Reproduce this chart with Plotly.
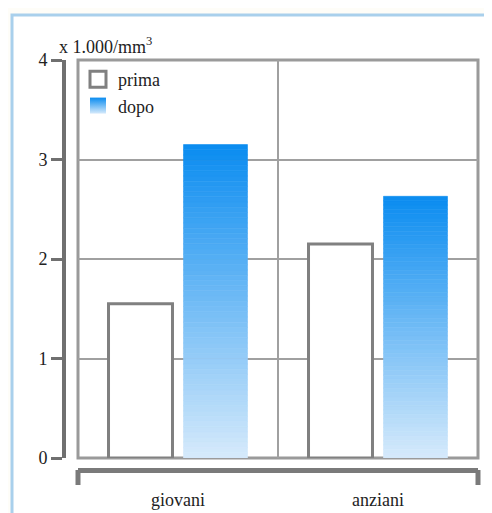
import plotly.graph_objects as go

categories = ["giovani", "anziani"]
prima = [1.55, 2.15]
dopo = [3.15, 2.63]
y_ticks = [0, 1, 2, 3, 4]
y_unit = "x 1.000/mm<sup>3</sup>"

FONT = "Liberation Serif"
TOP = (10, 140, 240)
BOT = (214, 234, 251)
N = 60


def mix(t):
    r = [round(TOP[i] + (BOT[i] - TOP[i]) * t) for i in range(3)]
    return "rgb(%d,%d,%d)" % tuple(r)


fig = go.Figure()
fig.add_trace(go.Bar(
    x=categories, y=prima, name="prima", offsetgroup="prima", showlegend=False,
    marker=dict(color="white", line=dict(color="#808080", width=3)),
))

# gradient-filled "dopo" bars built from stacked slices of each data value
for k in range(N):
    t = 1 - (k + 0.5) / N  # k=0 bottom slice (light) -> top (dark)
    col = mix(t)
    fig.add_trace(go.Bar(
        x=categories,
        y=[v / N for v in dopo],
        base=[v * k / N for v in dopo],
        name="dopo", offsetgroup="dopo", showlegend=False,
        marker=dict(color=col, line=dict(color=col, width=0.6)),
        hoverinfo="skip",
    ))

# legend-only entries (larger square swatches, gradient for "dopo")
fig.add_trace(go.Scatter(
    x=[None], y=[None], mode="markers", name="prima",
    marker=dict(symbol="square", size=16, color="white",
                line=dict(color="#808080", width=3)),
))
fig.add_trace(go.Scatter(
    x=[None], y=[None], mode="markers", name="dopo",
    marker=dict(symbol="square", size=16, color="rgb(10,140,240)",
                gradient=dict(type="vertical", color="rgb(214,234,251)"),
                line=dict(width=0)),
))

# the page places the figure 8px from the window's top-left corner
OFF = 8
W, H = 492 - OFF, 513 - OFF
L, T = 64 - OFF, 60 - OFF
R = W - (478 - OFF)
B = H - (470 - OFF)
pw = W - L - R
ph = H - T - B
x_start = (78 - 64) / pw
y_start = (470 - 458) / ph

fig.update_layout(
    template="none",
    width=W, height=H,
    margin=dict(l=L, r=R, t=T, b=B, pad=0, autoexpand=False),
    paper_bgcolor="#fefdf8",
    plot_bgcolor="rgba(0,0,0,0)",
    barmode="group", bargap=0.25, bargroupgap=0.147,
    font=dict(family=FONT, size=18, color="#222"),
    legend=dict(x=(78 - 64) / pw, y=1 - 1 / ph, xanchor="left", yanchor="top",
                bgcolor="rgba(0,0,0,0)", font=dict(size=18, family=FONT),
                tracegroupgap=0, itemwidth=30, itemsizing="trace"),
    xaxis=dict(domain=[x_start, 1], anchor="free", position=0, automargin=False,
               showline=True, linecolor="#7a7a7a", linewidth=5,
               showgrid=True, gridcolor="#a0a0a0", gridwidth=2,
               tickson="boundaries", ticks="", ticklabelstandoff=11,
               tickfont=dict(size=18, family=FONT)),
    yaxis=dict(domain=[y_start, 1], anchor="free", position=0, automargin=False,
               range=[0, 4], tickvals=y_ticks, showgrid=True,
               gridcolor="#a0a0a0", gridwidth=2, zeroline=False,
               showline=True, linecolor="#707070", linewidth=4,
               ticks="outside", ticklen=11, tickwidth=3, tickcolor="#707070",
               tickfont=dict(size=18, family=FONT)),
    showlegend=True,
)

# outer light-blue frame
fig.add_shape(type="rect", xref="paper", yref="paper",
              x0=(12 - 64) / pw, x1=(510 - 64) / pw,
              y0=1 + (60 - 15) / ph, y1=1 - (530 - 60) / ph,
              line=dict(color="#a9d0ec", width=3), fillcolor="white",
              layer="below")
# plot box
fig.add_shape(type="rect", xref="x domain", yref="y domain",
              x0=0, x1=1, y0=0, y1=1,
              line=dict(color="#9a9a9a", width=3), layer="below")
# bracket end ticks under the category axis
for xx in (0, 1):
    fig.add_shape(type="line", xref="x domain", yref="paper",
                  x0=xx, x1=xx, y0=0, y1=-15 / ph,
                  line=dict(color="#7a7a7a", width=5))

fig.add_annotation(text=y_unit, xref="paper", yref="paper",
                   x=(57 - 64) / pw, y=1 + 1 / ph, xanchor="left", yanchor="bottom",
                   showarrow=False, font=dict(size=18, family=FONT, color="#222"))

fig.write_html("out.html")
